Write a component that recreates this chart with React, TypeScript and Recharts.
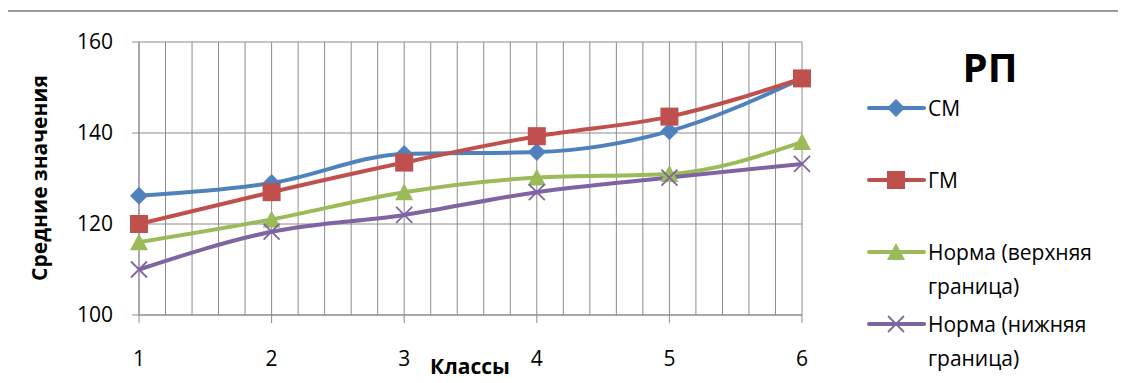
import { LineChart, Line, XAxis, YAxis, CartesianGrid, Legend } from "recharts";

const classes = [1, 2, 3, 4, 5, 6];
const cmValues = [126.2, 129, 135.4, 135.8, 140.4, 152];
const gmValues = [120, 127, 133.5, 139.3, 143.6, 152];
const upperNorm = [116, 121, 127, 130.2, 131, 138];
const lowerNorm = [110, 118.3, 122, 127, 130.2, 133.2];
const yTicks = [100, 120, 140, 160];
const minorTicks = [1, 1.2, 1.4, 1.6, 1.8, 2, 2.2, 2.4, 2.6, 2.8, 3, 3.2, 3.4, 3.6, 3.8, 4, 4.2, 4.4, 4.6, 4.8, 5, 5.2, 5.4, 5.6, 5.8, 6];
const legendOrder = ["cm", "gm", "upper", "lower"];

const data = classes.map((c, i) => ({
  x: c,
  cm: cmValues[i],
  gm: gmValues[i],
  upper: upperNorm[i],
  lower: lowerNorm[i],
}));

const FONT = "'Open Sans', 'Liberation Sans', sans-serif";
const BLUE = "#4f81bd";
const RED = "#c0504d";
const GREEN = "#9bbb59";
const PURPLE = "#8064a2";

function Marker({ kind, cx, cy, color }: { kind: string; cx: number; cy: number; color: string }) {
  if (kind === "diamond") {
    return <polygon points={`${cx},${cy - 9} ${cx + 9},${cy} ${cx},${cy + 9} ${cx - 9},${cy}`} fill={color} />;
  }
  if (kind === "square") {
    return <rect x={cx - 9} y={cy - 9} width={18} height={18} fill={color} />;
  }
  if (kind === "triangle") {
    return <polygon points={`${cx},${cy - 9} ${cx + 9},${cy + 8} ${cx - 9},${cy + 8}`} fill={color} />;
  }
  return (
    <g stroke={color} strokeWidth={1.8}>
      <line x1={cx - 8} y1={cy - 8} x2={cx + 8} y2={cy + 8} />
      <line x1={cx - 8} y1={cy + 8} x2={cx + 8} y2={cy - 8} />
    </g>
  );
}

const markerOf: Record<string, string> = { cm: "diamond", gm: "square", upper: "triangle", lower: "cross" };

const dotFor = (kind: string, color: string) => (props: any) => (
  <Marker key={`${kind}-${props.index}`} kind={kind} cx={props.cx} cy={props.cy} color={color} />
);

function LegendBox(props: any) {
  const payload = [...(props.payload || [])].sort(
    (a: any, b: any) => legendOrder.indexOf(a.dataKey) - legendOrder.indexOf(b.dataKey)
  );
  return (
    <div style={{ fontFamily: FONT, fontSize: 21, color: "#000" }}>
      {payload.map((p: any) => (
        <div key={p.dataKey} style={{ display: "flex", alignItems: "flex-start", height: 72 }}>
          <svg width={62} height={34} style={{ flex: "none" }}>
            <line x1={3} y1={17} x2={58} y2={17} stroke={p.color} strokeWidth={4} strokeLinecap="round" />
            <Marker kind={markerOf[p.dataKey]} cx={30} cy={17} color={p.color} />
          </svg>
          <div style={{ lineHeight: "34px", width: 190 }}>{p.value}</div>
        </div>
      ))}
    </div>
  );
}

export default function App() {
  return (
    <div style={{ margin: -8, position: "relative", width: 1126, height: 383, background: "#fff", overflow: "hidden", fontFamily: FONT }}>
      <div style={{ position: "absolute", left: 6, top: 10, width: 1200, height: 400, borderLeft: "2px solid #9a9a9a", borderTop: "2px solid #9a9a9a" }} />
      <LineChart width={1126} height={383} data={data} margin={{ top: 42, right: 324, bottom: 38, left: 0 }}>
        <CartesianGrid xAxisId="minor" stroke="#8c8c8c" strokeWidth={1} />
        <XAxis
          xAxisId="minor"
          dataKey="x"
          type="number"
          domain={[1, 6]}
          ticks={minorTicks}
          hide
        />
        <XAxis
          dataKey="x"
          type="number"
          domain={[1, 6]}
          ticks={classes}
          stroke="#8c8c8c"
          tickSize={8}
          tickMargin={28}
          tick={{ fill: "#000", fontSize: 21, fontFamily: FONT }}
        />
        <YAxis
          width={139}
          domain={[100, 160]}
          ticks={yTicks}
          stroke="#8c8c8c"
          tickSize={7}
          tickMargin={19}
          tick={{ fill: "#000", fontSize: 21, fontFamily: FONT }}
        />
        <Legend
          layout="vertical"
          align="center"
          verticalAlign="middle"
          content={<LegendBox />}
          wrapperStyle={{ left: 866, top: 91, width: 260 }}
        />
        <Line name="СМ" dataKey="cm" type="monotone" stroke={BLUE} strokeWidth={4} dot={dotFor("diamond", BLUE)} activeDot={false} isAnimationActive={false} />
        <Line name="ГМ" dataKey="gm" type="monotone" stroke={RED} strokeWidth={4} dot={dotFor("square", RED)} activeDot={false} isAnimationActive={false} />
        <Line name="Норма (верхняя граница)" dataKey="upper" type="monotone" stroke={GREEN} strokeWidth={4} dot={dotFor("triangle", GREEN)} activeDot={false} isAnimationActive={false} />
        <Line name="Норма (нижняя граница)" dataKey="lower" type="monotone" stroke={PURPLE} strokeWidth={4} dot={dotFor("cross", PURPLE)} activeDot={false} isAnimationActive={false} />
      </LineChart>
      <div style={{ position: "absolute", left: 39, top: 178, transform: "translate(-50%, -50%) rotate(-90deg)", fontWeight: 700, fontSize: 21, whiteSpace: "nowrap" }}>
        Средние значения
      </div>
      <div style={{ position: "absolute", left: 470, top: 366, transform: "translate(-50%, -50%)", fontWeight: 700, fontSize: 21, whiteSpace: "nowrap" }}>
        Классы
      </div>
      <div style={{ position: "absolute", left: 990, top: 66, transform: "translate(-50%, -50%)", fontWeight: 700, fontSize: 40, whiteSpace: "nowrap" }}>
        РП
      </div>
    </div>
  );
}
